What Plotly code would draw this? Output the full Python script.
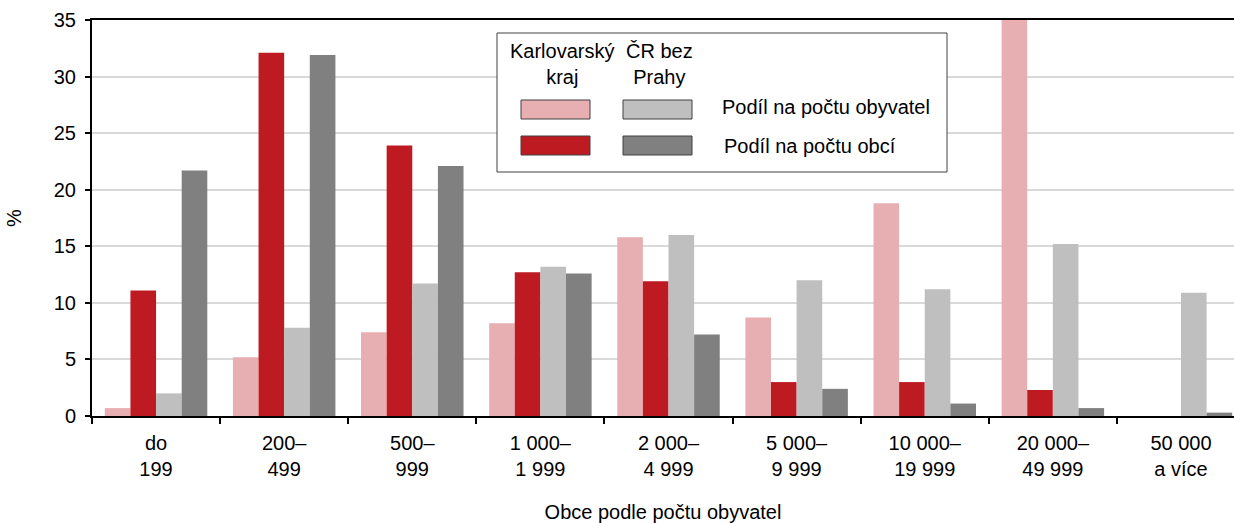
import plotly.graph_objects as go

categories = ["do<br>199", "200–<br>499", "500–<br>999", "1 000–<br>1 999", "2 000–<br>4 999",
              "5 000–<br>9 999", "10 000–<br>19 999", "20 000–<br>49 999", "50 000<br>a více"]
kk_obyvatel = [0.7, 5.2, 7.4, 8.2, 15.8, 8.7, 18.8, 35.5, 0.0]
kk_obci = [11.1, 32.1, 23.9, 12.7, 11.9, 3.0, 3.0, 2.3, 0.0]
cr_obyvatel = [2.0, 7.8, 11.7, 13.2, 16.0, 12.0, 11.2, 15.2, 10.9]
cr_obci = [21.7, 31.9, 22.1, 12.6, 7.2, 2.4, 1.1, 0.7, 0.3]

C_PINK = "#E8AFB2"
C_RED = "#BE1A22"
C_LGRAY = "#BFBFBF"
C_DGRAY = "#808080"
FONT = "Liberation Sans, Arial, sans-serif"
FS = 20

W, H = 1234, 523
L, R, T, B = 92, 0, 20, 107

fig = go.Figure()
for name, vals, col in [("Karlovarský kraj – obyvatel", kk_obyvatel, C_PINK),
                        ("Karlovarský kraj – obcí", kk_obci, C_RED),
                        ("ČR bez Prahy – obyvatel", cr_obyvatel, C_LGRAY),
                        ("ČR bez Prahy – obcí", cr_obci, C_DGRAY)]:
    fig.add_trace(go.Bar(x=categories, y=vals, name=name, marker_color=col,
                         marker_line_width=0))

def px(x):
    return (x - L) / (W - L - R)

def py(y):
    return (H - B - y) / (H - T - B)

shapes = []
annotations = []
# legend box
shapes.append(dict(type="rect", xref="paper", yref="paper", x0=px(497), x1=px(947),
                   y0=py(172), y1=py(33), line=dict(color="#404040", width=1),
                   fillcolor="white", layer="above"))
for (x0, y0, col) in [(521, 100, C_PINK), (623, 100, C_LGRAY), (521, 136, C_RED), (623, 136, C_DGRAY)]:
    shapes.append(dict(type="rect", xref="paper", yref="paper", x0=px(x0), x1=px(x0 + 69),
                       y0=py(y0 + 19), y1=py(y0), line=dict(color="#404040", width=1),
                       fillcolor=col, layer="above"))
for text, x, y, anc in [("Karlovarský<br>kraj", 562, 64, "center"),
                        ("ČR bez<br>Prahy", 659, 64, "center"),
                        ("Podíl na počtu obyvatel", 720, 107, "left"),
                        ("Podíl na počtu obcí", 722, 146, "left")]:
    annotations.append(dict(text=text, xref="paper", yref="paper", x=px(x), y=py(y),
                            xanchor=anc, yanchor="middle", showarrow=False,
                            font=dict(family=FONT, size=FS, color="black"), align="center"))

fig.update_layout(
    width=W, height=H,
    margin=dict(l=L, r=R, t=T, b=B, autoexpand=False),
    plot_bgcolor="white", paper_bgcolor="white",
    barmode="group", bargap=0.2, bargroupgap=0,
    showlegend=False,
    font=dict(family=FONT, size=FS, color="black"),
    shapes=shapes, annotations=annotations,
    xaxis=dict(type="category", range=[-0.5, 8.414], tickson="boundaries",
               ticks="outside", ticklen=6, tickwidth=1.5, tickcolor="black",
               showline=True, linecolor="black", linewidth=2, mirror=True,
               showgrid=False, tickfont=dict(size=FS), automargin=False,
               ticklabelstandoff=8,
               title=dict(text="Obce podle počtu obyvatel", font=dict(size=FS), standoff=28)),
    yaxis=dict(range=[0, 35], dtick=5, ticks="outside", ticklen=5, tickwidth=1.5,
               tickcolor="black", showline=True, linecolor="black", linewidth=2,
               showgrid=True, gridcolor="#D9D9D9", gridwidth=1.5, zeroline=False,
               tickfont=dict(size=FS), automargin=False, ticklabelstandoff=5,
               title=dict(text="%", font=dict(size=FS), standoff=27)),
)

fig.write_html("out.html", config={"displayModeBar": False},
               post_script="document.body.style.margin='0';document.body.style.overflow='hidden';")
